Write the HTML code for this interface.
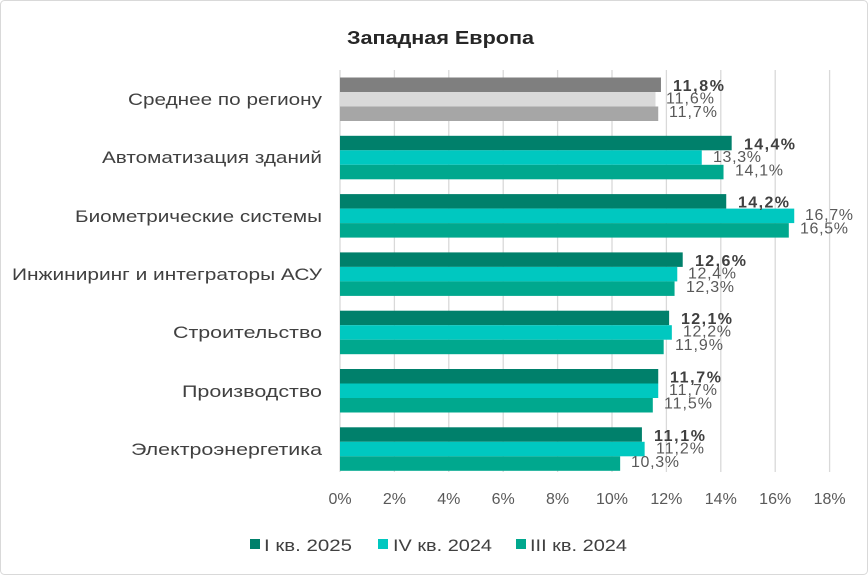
<!DOCTYPE html>
<html><head><meta charset="utf-8"><style>
body{margin:0;background:#fff}
svg{display:block;font-family:"Liberation Sans",sans-serif}
</style></head><body>
<svg width="868" height="575" viewBox="0 0 868 575">
<rect x="0.5" y="0.5" width="867" height="574" rx="4" fill="#fff" stroke="#d9d9d9"/>
<text x="347" y="44" font-size="18" font-weight="bold" fill="#262626" textLength="187" lengthAdjust="spacingAndGlyphs">Западная Европа</text>
<g stroke="#d9d9d9" stroke-width="1.3">
<line x1="340" y1="70" x2="340" y2="472"/><line x1="394.4" y1="70" x2="394.4" y2="472"/><line x1="448.8" y1="70" x2="448.8" y2="472"/><line x1="503.2" y1="70" x2="503.2" y2="472"/><line x1="557.6" y1="70" x2="557.6" y2="472"/><line x1="612" y1="70" x2="612" y2="472"/><line x1="666.4" y1="70" x2="666.4" y2="472"/><line x1="720.8" y1="70" x2="720.8" y2="472"/><line x1="775.2" y1="70" x2="775.2" y2="472"/><line x1="829.6" y1="70" x2="829.6" y2="472"/>
</g>
<g font-size="16" fill="#595959" text-anchor="middle">
<text x="340" y="504">0%</text><text x="394.4" y="504">2%</text><text x="448.8" y="504">4%</text><text x="503.2" y="504">6%</text><text x="557.6" y="504">8%</text><text x="612" y="504">10%</text><text x="666.4" y="504">12%</text><text x="720.8" y="504">14%</text><text x="775.2" y="504">16%</text><text x="829.6" y="504">18%</text>
</g>
<g>
<rect x="340" y="77.5" width="320.96" height="14.5" fill="#7f7f7f"/>
<rect x="340" y="92" width="315.52" height="14.5" fill="#d9d9d9"/>
<rect x="340" y="106.5" width="318.24" height="14.5" fill="#a6a6a6"/>
<rect x="340" y="135.8" width="391.68" height="14.5" fill="#00806B"/>
<rect x="340" y="150.3" width="361.76" height="14.5" fill="#00C8C0"/>
<rect x="340" y="164.8" width="383.52" height="14.5" fill="#00A88E"/>
<rect x="340" y="194.1" width="386.24" height="14.5" fill="#00806B"/>
<rect x="340" y="208.6" width="454.24" height="14.5" fill="#00C8C0"/>
<rect x="340" y="223.1" width="448.8" height="14.5" fill="#00A88E"/>
<rect x="340" y="252.4" width="342.72" height="14.5" fill="#00806B"/>
<rect x="340" y="266.9" width="337.28" height="14.5" fill="#00C8C0"/>
<rect x="340" y="281.4" width="334.56" height="14.5" fill="#00A88E"/>
<rect x="340" y="310.7" width="329.12" height="14.5" fill="#00806B"/>
<rect x="340" y="325.2" width="331.84" height="14.5" fill="#00C8C0"/>
<rect x="340" y="339.7" width="323.68" height="14.5" fill="#00A88E"/>
<rect x="340" y="369" width="318.24" height="14.5" fill="#00806B"/>
<rect x="340" y="383.5" width="318.24" height="14.5" fill="#00C8C0"/>
<rect x="340" y="398" width="312.8" height="14.5" fill="#00A88E"/>
<rect x="340" y="427.3" width="301.92" height="14.5" fill="#00806B"/>
<rect x="340" y="441.8" width="304.64" height="14.5" fill="#00C8C0"/>
<rect x="340" y="456.3" width="280.16" height="14.5" fill="#00A88E"/>
</g>
<g font-size="16" fill="#404040" font-weight="bold" lengthAdjust="spacingAndGlyphs">
<text x="673" y="91" textLength="51">11,8%</text>
<text x="744" y="149.3" textLength="51">14,4%</text>
<text x="738" y="207.6" textLength="51">14,2%</text>
<text x="695" y="265.9" textLength="51">12,6%</text>
<text x="681" y="324.2" textLength="51">12,1%</text>
<text x="670" y="382.5" textLength="51">11,7%</text>
<text x="654" y="440.8" textLength="51">11,1%</text>
</g>
<g font-size="16" fill="#595959">
<text x="666" y="103.5" textLength="48">11,6%</text><text x="669" y="117" textLength="48">11,7%</text>
<text x="713" y="161.8" textLength="48">13,3%</text><text x="735" y="175.3" textLength="48">14,1%</text>
<text x="805" y="220.1" textLength="48">16,7%</text><text x="800" y="233.6" textLength="48">16,5%</text>
<text x="688" y="278.4" textLength="48">12,4%</text><text x="686" y="291.9" textLength="48">12,3%</text>
<text x="683" y="336.7" textLength="48">12,2%</text><text x="675" y="350.2" textLength="48">11,9%</text>
<text x="669" y="395" textLength="48">11,7%</text><text x="664" y="408.5" textLength="48">11,5%</text>
<text x="656" y="453.3" textLength="48">11,2%</text><text x="631" y="466.8" textLength="48">10,3%</text>
</g>
<g font-size="17" fill="#404040" text-anchor="end">
<text x="322" y="105" textLength="194" lengthAdjust="spacingAndGlyphs">Среднее по региону</text>
<text x="322" y="163" textLength="220" lengthAdjust="spacingAndGlyphs">Автоматизация зданий</text>
<text x="322" y="222" textLength="247" lengthAdjust="spacingAndGlyphs">Биометрические системы</text>
<text x="322" y="280" textLength="310" lengthAdjust="spacingAndGlyphs">Инжиниринг и интеграторы АСУ</text>
<text x="322" y="338" textLength="149" lengthAdjust="spacingAndGlyphs">Строительство</text>
<text x="322" y="397" textLength="140" lengthAdjust="spacingAndGlyphs">Производство</text>
<text x="322" y="455" textLength="191" lengthAdjust="spacingAndGlyphs">Электроэнергетика</text>
</g>
<g font-size="17" fill="#404040">
<rect x="250" y="539" width="10" height="10" fill="#00806B"/><text x="264" y="551" textLength="88" lengthAdjust="spacingAndGlyphs">I кв. 2025</text>
<rect x="378" y="539" width="10" height="10" fill="#00C8C0"/><text x="393" y="551" textLength="99" lengthAdjust="spacingAndGlyphs">IV кв. 2024</text>
<rect x="516" y="539" width="10" height="10" fill="#00A88E"/><text x="530" y="551" textLength="97" lengthAdjust="spacingAndGlyphs">III кв. 2024</text>
</g>
</svg>
</body></html>
